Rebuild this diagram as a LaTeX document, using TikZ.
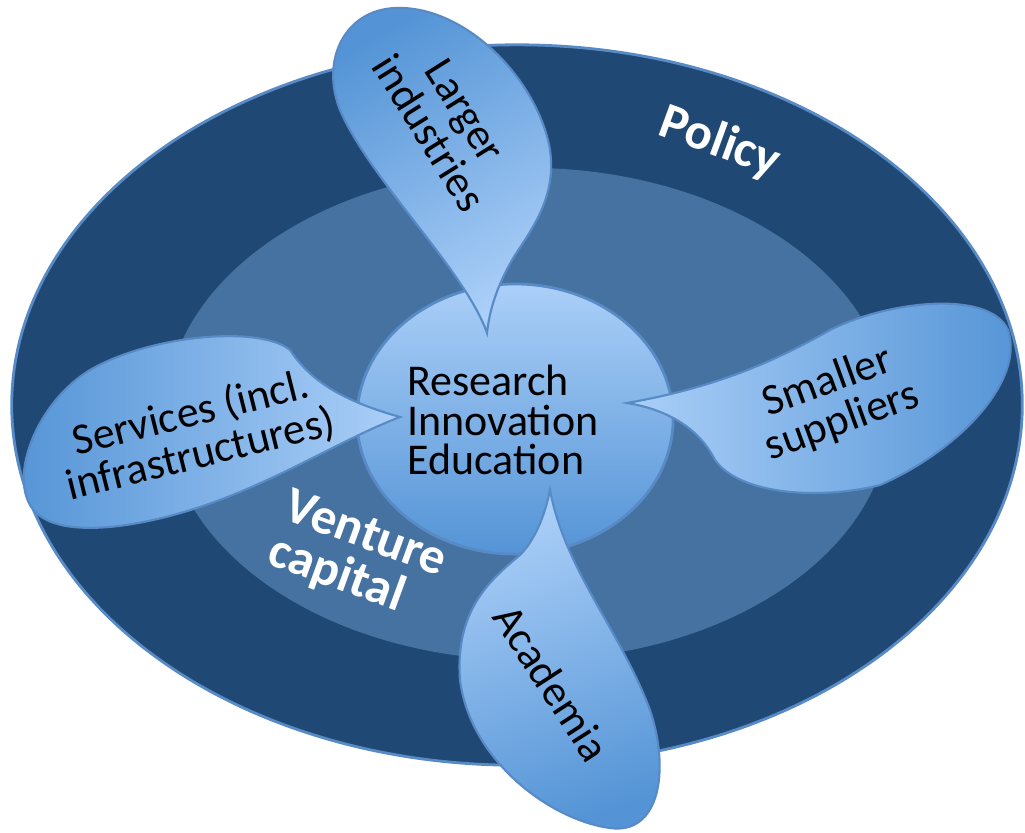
\documentclass[tikz,border=0pt]{standalone}
\usepackage{fontspec}
\setmainfont{Carlito}
\usetikzlibrary{positioning}
\definecolor{policyblue}{RGB}{31,73,116}
\definecolor{ventureblue}{RGB}{69,114,160}
\definecolor{lightblue}{RGB}{171,207,248}
\definecolor{midblue}{RGB}{84,148,214}
\definecolor{rimblue}{RGB}{88,138,198}

\begin{document}
\begin{tikzpicture}[x=0.01cm,y=-0.01cm,
      ring/.style={draw=rimblue,line width=0.8pt},
      bubble/.style={draw=rimblue,line width=0.6pt},
      bubble text/.style={font=\fontsize{12.5}{12}\selectfont,align=center,text=black},
      core text/.style={font=\fontsize{12.5}{11.2}\selectfont,align=left,text=black},
      ring text/.style={font=\fontsize{14.5}{13.5}\selectfont\bfseries,align=left,text=white}]
  \useasboundingbox (0,0) rectangle (1025,832);
  \fill[ring,fill=policyblue] (517,405) ellipse [x radius=5.05cm,y radius=3.6cm];
  \fill[ventureblue] (528,414) ellipse [x radius=3.62cm,y radius=2.46cm];
  \shadedraw[ring,top color=lightblue,bottom color=midblue] (515,419) ellipse [x radius=1.58cm,y radius=1.35cm];
  \shadedraw[bubble,top color=midblue,bottom color=lightblue,shading angle=30]
    (487,333) .. controls (465,270) and (370,180) .. (340,110)
    .. controls (320,60) and (345,10) .. (395,8)
    .. controls (460,5) and (530,70) .. (548,140)
    .. controls (560,190) and (535,225) .. (515,255)
    .. controls (500,280) and (490,305) .. (487,333) -- cycle;
  \shadedraw[bubble,left color=lightblue,right color=midblue]
    (627,403) .. controls (700,390) and (760,370) .. (830,330)
    .. controls (890,300) and (990,290) .. (1008,330)
    .. controls (1025,380) and (960,450) .. (880,485)
    .. controls (820,500) and (740,495) .. (715,460)
    .. controls (700,430) and (670,410) .. (627,403) -- cycle;
  \shadedraw[bubble,left color=midblue,right color=lightblue]
    (400,417) .. controls (340,400) and (310,380) .. (290,350)
    .. controls (260,325) and (150,335) .. (90,370)
    .. controls (40,400) and (10,470) .. (30,505)
    .. controls (50,540) and (130,530) .. (200,507)
    .. controls (280,480) and (340,440) .. (400,417) -- cycle;
  \shadedraw[bubble,top color=lightblue,bottom color=midblue,shading angle=20]
    (550,490) .. controls (565,570) and (620,630) .. (650,710)
    .. controls (670,770) and (660,835) .. (610,828)
    .. controls (550,820) and (470,760) .. (460,680)
    .. controls (455,610) and (490,580) .. (520,555)
    .. controls (535,540) and (545,515) .. (550,490) -- cycle;
  \node[ring text] (policy) at (720,143) [rotate=-20] {Policy};
  \node[ring text] (venture) at (357,558) [rotate=-20] {Venture\\capital};
  \node[core text] (core) at (503,420) {Research\\Innovation\\Education};
  \node[bubble text] (larger) at (447,122) [rotate=-58] {Larger\\industries};
  \node[bubble text] (smaller) at (835,402) [rotate=20] {Smaller\\suppliers};
  \node[bubble text] (services) at (196,434) [rotate=14] {Services (incl.\\infrastructures)};
  \node[bubble text] (academia) at (552,683) [rotate=-57] {Academia};
\end{tikzpicture}
\end{document}
